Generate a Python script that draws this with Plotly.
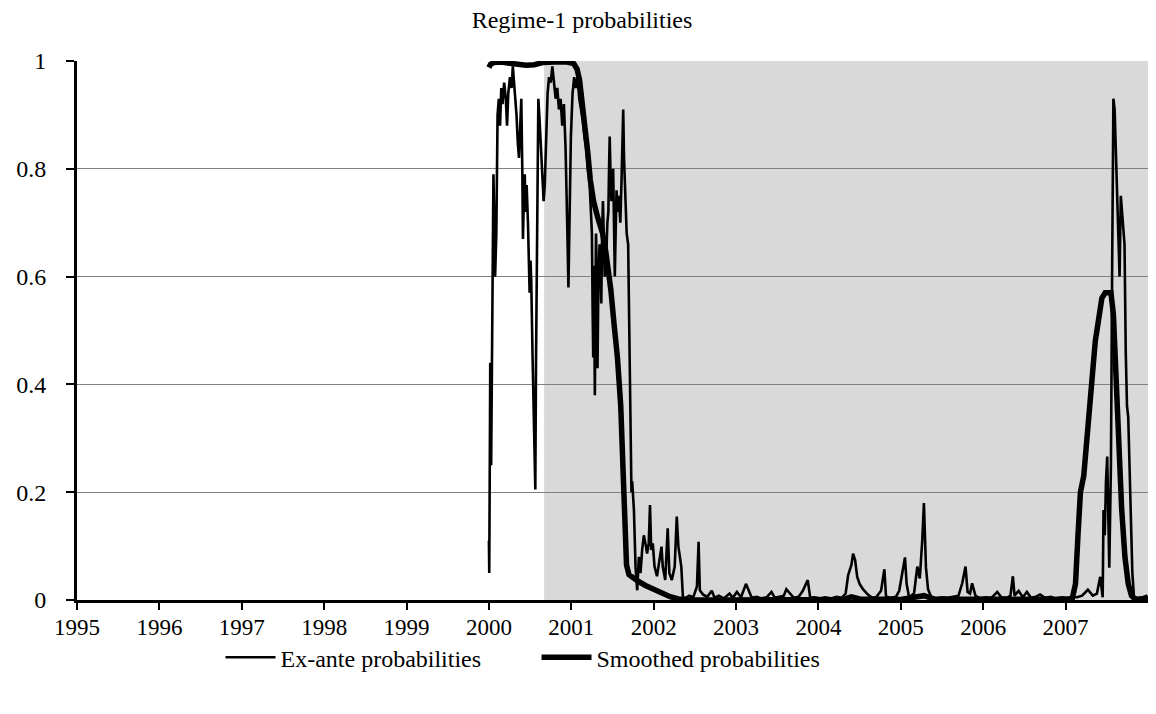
import plotly.graph_objects as go

# ---------------- data ----------------
exante_time = [
    2000.000, 2000.004, 2000.012, 2000.016, 2000.022, 2000.027, 2000.040, 2000.055, 2000.065, 2000.075,
    2000.090, 2000.105, 2000.120, 2000.135, 2000.150, 2000.165, 2000.185, 2000.205, 2000.220, 2000.235,
    2000.255, 2000.275, 2000.290, 2000.305, 2000.320, 2000.335, 2000.350, 2000.365, 2000.380, 2000.393,
    2000.405, 2000.413, 2000.423, 2000.435, 2000.445, 2000.458, 2000.474, 2000.485, 2000.494, 2000.505,
    2000.514, 2000.530, 2000.545, 2000.556, 2000.563, 2000.572, 2000.585, 2000.600, 2000.615, 2000.628,
    2000.645, 2000.664, 2000.678, 2000.695, 2000.712, 2000.730, 2000.750, 2000.770, 2000.790, 2000.810,
    2000.830, 2000.850, 2000.870, 2000.890, 2000.910, 2000.930, 2000.950, 2000.965, 2000.980, 2000.995,
    2001.015, 2001.035, 2001.055, 2001.075, 2001.097, 2001.120, 2001.140, 2001.160, 2001.180, 2001.200,
    2001.220, 2001.238, 2001.250, 2001.258, 2001.266, 2001.274, 2001.280, 2001.286, 2001.293, 2001.300,
    2001.310, 2001.318, 2001.328, 2001.343, 2001.354, 2001.364, 2001.374, 2001.384, 2001.395, 2001.405,
    2001.415, 2001.425, 2001.438, 2001.450, 2001.458, 2001.466, 2001.477, 2001.487, 2001.498, 2001.508,
    2001.518, 2001.528, 2001.538, 2001.549, 2001.560, 2001.570, 2001.580, 2001.595, 2001.610, 2001.620,
    2001.630, 2001.640, 2001.650, 2001.660, 2001.672, 2001.690, 2001.705, 2001.718, 2001.730, 2001.739,
    2001.750, 2001.760, 2001.780, 2001.800, 2001.820, 2001.840, 2001.860, 2001.880, 2001.900, 2001.920,
    2001.940, 2001.955, 2001.970, 2001.989,
    2002.010, 2002.040, 2002.070, 2002.095, 2002.110, 2002.140, 2002.170, 2002.190, 2002.220, 2002.255,
    2002.280, 2002.300, 2002.335, 2002.355, 2002.390, 2002.430, 2002.480, 2002.525, 2002.545, 2002.560,
    2002.600, 2002.650, 2002.705, 2002.740, 2002.790, 2002.850, 2002.920, 2002.960,
    2003.010, 2003.060, 2003.120, 2003.150, 2003.190, 2003.250, 2003.310, 2003.370, 2003.430, 2003.470,
    2003.530, 2003.580, 2003.610, 2003.650, 2003.700, 2003.760, 2003.810, 2003.870, 2003.900, 2003.950,
    2004.020, 2004.080, 2004.150, 2004.220, 2004.280, 2004.330, 2004.360, 2004.400, 2004.420, 2004.445,
    2004.470, 2004.500, 2004.540, 2004.600, 2004.650, 2004.700, 2004.760, 2004.800, 2004.820, 2004.880,
    2004.940, 2004.980,
    2005.050, 2005.070, 2005.100, 2005.160, 2005.200, 2005.230, 2005.260, 2005.280, 2005.305, 2005.330,
    2005.370, 2005.430, 2005.500, 2005.570, 2005.640, 2005.700, 2005.745, 2005.785, 2005.810, 2005.840,
    2005.865, 2005.905, 2005.960,
    2006.030, 2006.100, 2006.170, 2006.220, 2006.290, 2006.330, 2006.360, 2006.380, 2006.430, 2006.480,
    2006.530, 2006.580, 2006.640, 2006.690, 2006.750, 2006.820, 2006.880, 2006.950,
    2007.020, 2007.080, 2007.140, 2007.200, 2007.270, 2007.330, 2007.380, 2007.420, 2007.450, 2007.460,
    2007.475, 2007.490, 2007.505, 2007.530, 2007.550, 2007.565, 2007.580, 2007.595, 2007.610, 2007.625,
    2007.640, 2007.655, 2007.670, 2007.685, 2007.700, 2007.715, 2007.730, 2007.745, 2007.760, 2007.775,
    2007.790, 2007.810, 2007.830, 2007.880, 2007.940, 2008.000,
]
exante_prob = [
    0.11, 0.05, 0.30, 0.44, 0.34, 0.25, 0.61, 0.79, 0.70, 0.60,
    0.68, 0.90, 0.93, 0.88, 0.95, 0.92, 0.96, 0.93, 0.88, 0.94,
    0.97, 0.95, 0.99, 0.96, 0.93, 0.90, 0.85, 0.82, 0.88, 0.93,
    0.80, 0.67, 0.74, 0.79, 0.72, 0.77, 0.70, 0.63, 0.57, 0.63,
    0.59, 0.45, 0.30, 0.24, 0.205, 0.45, 0.78, 0.93, 0.89, 0.85,
    0.80, 0.74, 0.77, 0.86, 0.94, 0.97, 0.96, 0.99, 0.96, 0.93,
    0.95, 0.91, 0.93, 0.88, 0.92, 0.84, 0.70, 0.58, 0.72, 0.86,
    0.94, 0.97, 0.95, 0.97, 0.93, 0.91, 0.89, 0.86, 0.84, 0.80,
    0.78, 0.72, 0.68, 0.55, 0.45, 0.62, 0.48, 0.38, 0.55, 0.68,
    0.60, 0.43, 0.58, 0.66, 0.62, 0.55, 0.68, 0.74, 0.67, 0.60,
    0.66, 0.64, 0.70, 0.72, 0.80, 0.86, 0.78, 0.74, 0.77, 0.80,
    0.70, 0.60, 0.68, 0.76, 0.72, 0.75, 0.74, 0.70, 0.78, 0.86,
    0.91, 0.82, 0.76, 0.72, 0.68, 0.66, 0.45, 0.25, 0.20, 0.22,
    0.19, 0.167, 0.06, 0.018, 0.08, 0.05, 0.093, 0.12, 0.105, 0.086,
    0.105, 0.176, 0.093, 0.105,
    0.062, 0.044, 0.074, 0.099, 0.062, 0.037, 0.133, 0.05, 0.037, 0.062,
    0.155, 0.099, 0.062, 0.005, 0.004, 0.008, 0.005, 0.025, 0.108, 0.018,
    0.010, 0.006, 0.017, 0.004, 0.008, 0.003, 0.012, 0.004,
    0.015, 0.005, 0.030, 0.020, 0.004, 0.006, 0.003, 0.005, 0.015, 0.004,
    0.006, 0.008, 0.020, 0.012, 0.004, 0.006, 0.017, 0.037, 0.004, 0.005,
    0.003, 0.005, 0.003, 0.006, 0.004, 0.012, 0.046, 0.065, 0.086, 0.074,
    0.043, 0.030, 0.020, 0.010, 0.004, 0.005, 0.017, 0.057, 0.006, 0.004,
    0.006, 0.017,
    0.079, 0.030, 0.005, 0.012, 0.062, 0.040, 0.111, 0.180, 0.060, 0.020,
    0.005, 0.003, 0.005, 0.004, 0.006, 0.008, 0.031, 0.062, 0.015, 0.012,
    0.031, 0.008, 0.003,
    0.005, 0.004, 0.015, 0.005, 0.004, 0.008, 0.044, 0.008, 0.017, 0.005,
    0.015, 0.004, 0.006, 0.010, 0.004, 0.006, 0.003, 0.005,
    0.004, 0.006, 0.005, 0.008, 0.019, 0.008, 0.012, 0.043, 0.005, 0.167,
    0.12, 0.22, 0.266, 0.06, 0.25, 0.62, 0.93, 0.91, 0.82, 0.73,
    0.69, 0.60, 0.75, 0.72, 0.69, 0.66, 0.46, 0.36, 0.34, 0.26,
    0.17, 0.05, 0.005, 0.003, 0.004, 0.005,
]

smooth_time = [
    2000.000, 2000.020, 2000.060, 2000.150, 2000.250, 2000.350, 2000.450, 2000.550, 2000.650, 2000.800,
    2000.950, 2001.030, 2001.070, 2001.100, 2001.130, 2001.170, 2001.200, 2001.230, 2001.270, 2001.320,
    2001.380, 2001.420, 2001.460, 2001.480, 2001.520, 2001.560, 2001.600, 2001.620, 2001.635, 2001.650,
    2001.670, 2001.700, 2001.740, 2001.800, 2001.900, 2002.000, 2002.100, 2002.200, 2002.300, 2002.400,
    2003.000, 2004.000, 2004.300, 2004.400, 2004.500, 2005.000, 2005.150, 2005.280, 2005.400, 2006.000,
    2007.000, 2007.080, 2007.120, 2007.150, 2007.180, 2007.220, 2007.270, 2007.320, 2007.360, 2007.400,
    2007.440, 2007.480, 2007.550, 2007.580, 2007.610, 2007.645, 2007.680, 2007.720, 2007.760, 2007.800,
    2007.850, 2007.950, 2008.000,
]
smooth_prob = [
    0.988, 0.994, 0.997, 0.998, 0.996, 0.993, 0.992, 0.993, 0.997, 0.998,
    0.998, 0.995, 0.985, 0.965, 0.93, 0.88, 0.83, 0.78, 0.74, 0.71,
    0.68, 0.645, 0.60, 0.575, 0.51, 0.45, 0.36, 0.27, 0.18, 0.11,
    0.065, 0.047, 0.042, 0.036, 0.027, 0.020, 0.012, 0.006, 0.002, 0.0,
    0.0, 0.001, 0.001, 0.006, 0.002, 0.001, 0.004, 0.008, 0.002, 0.001,
    0.001, 0.002, 0.03, 0.12, 0.20, 0.23, 0.32, 0.42, 0.48, 0.52,
    0.56, 0.57, 0.57, 0.53, 0.42, 0.28, 0.17, 0.08, 0.03, 0.008,
    0.001, 0.003, 0.006,
]

shade_start = 2000.67
shade_end = 2008.0

year_ticks = list(range(1995, 2008))
year_labels = [str(y) for y in year_ticks]
prob_ticks = [0, 0.2, 0.4, 0.6, 0.8, 1]
prob_labels = ["0", "0.2", "0.4", "0.6", "0.8", "1"]

series_names = ["Ex-ante probabilities", "Smoothed probabilities"]
chart_title = "Regime-1 probabilities"

# ---------------- figure ----------------
FONT = "Liberation Serif"
# the page adds an 8px body margin, so the figure is 8px smaller than the window
W, H = 1148, 706

fig = go.Figure()
fig.add_trace(go.Scatter(
    x=exante_time, y=exante_prob, mode="lines", name=series_names[0],
    line=dict(color="black", width=2.6),
))
fig.add_trace(go.Scatter(
    x=smooth_time, y=smooth_prob, mode="lines", name=series_names[1],
    line=dict(color="black", width=5.5),
))

fig.add_shape(type="rect", xref="x", yref="y",
              x0=shade_start, x1=shade_end, y0=0, y1=1,
              fillcolor="#d9d9d9", line=dict(width=0), layer="below")

fig.update_layout(
    width=W, height=H, autosize=False,
    margin=dict(l=64, r=8, t=53, b=114),
    paper_bgcolor="white", plot_bgcolor="white",
    font=dict(family=FONT, size=24, color="black"),
    title=dict(text=chart_title, x=0.5, xref="container", xanchor="center",
               y=1 - 12 / H, yref="container", yanchor="middle",
               font=dict(family=FONT, size=24, color="black")),
    showlegend=True,
    legend=dict(orientation="h", x=0.134, xanchor="left", y=-0.107, yanchor="middle",
                font=dict(family=FONT, size=24, color="black"),
                entrywidth=251, entrywidthmode="pixels", itemwidth=50,
                bgcolor="rgba(0,0,0,0)", traceorder="normal"),
    xaxis=dict(range=[1995, 2008], tickmode="array", tickvals=year_ticks, ticktext=year_labels,
               ticks="outside", ticklen=7, tickwidth=2, tickcolor="black",
               showline=True, linewidth=3, linecolor="black",
               showgrid=False, zeroline=False, ticklabelstandoff=-3,
               tickfont=dict(family=FONT, size=23, color="black")),
    yaxis=dict(range=[0, 1], tickmode="array", tickvals=prob_ticks, ticktext=prob_labels,
               ticks="outside", ticklen=8, tickwidth=2, tickcolor="black",
               showline=True, linewidth=3, linecolor="black",
               showgrid=True, gridcolor="#808080", gridwidth=1, zeroline=False,
               ticklabelstandoff=15,
               tickfont=dict(family=FONT, size=24, color="black")),
)

fig.write_html("out.html")
